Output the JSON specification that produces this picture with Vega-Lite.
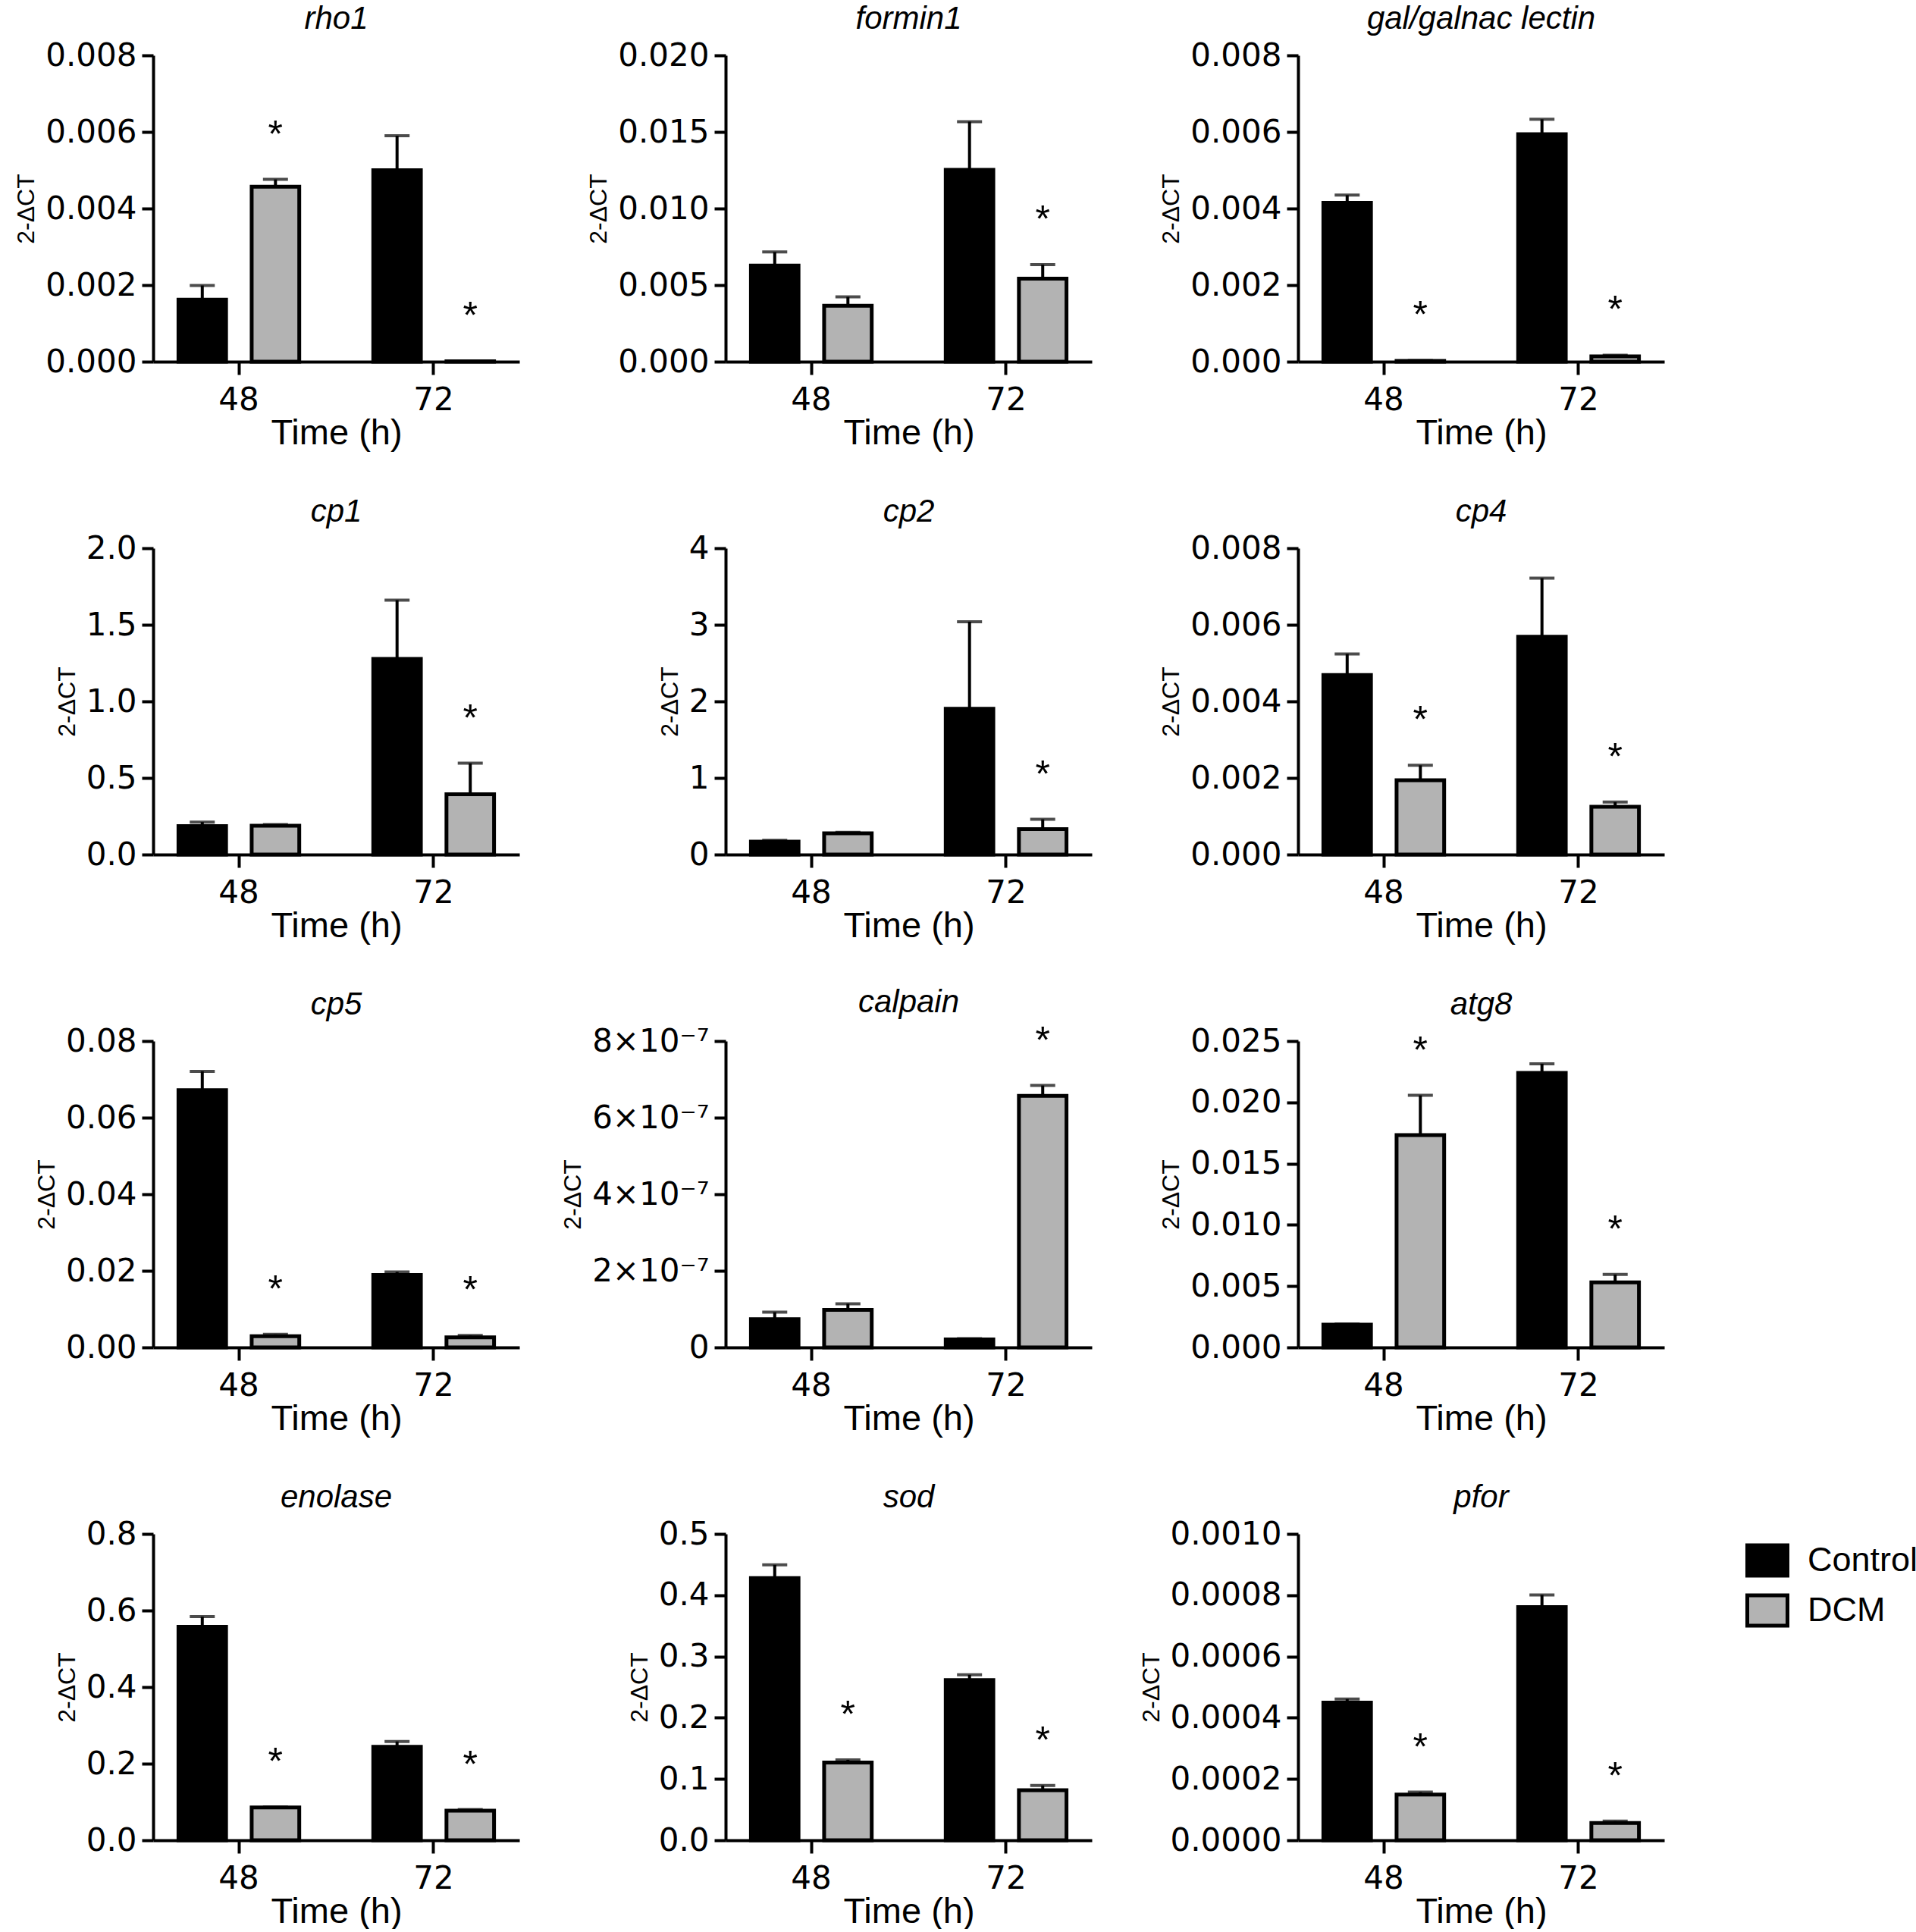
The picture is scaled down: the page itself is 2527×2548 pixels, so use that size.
{
  "$schema": "https://vega.github.io/schema/vega-lite/v6.json",
  "padding": {"left": 18, "top": 4, "right": 0, "bottom": 0},
  "background": "white",
  "columns": 3,
  "spacing": {"row": 246, "column": 272},
  "bounds": "flush",
  "datasets": {
    "d": [
      {"gene": "rho1", "time": "48", "group": "Control", "mean": 0.00162, "upper": 0.00199, "sig": false},
      {"gene": "rho1", "time": "48", "group": "DCM", "mean": 0.00457, "upper": 0.00476, "sig": true},
      {"gene": "rho1", "time": "72", "group": "Control", "mean": 0.005, "upper": 0.0059, "sig": false},
      {"gene": "rho1", "time": "72", "group": "DCM", "mean": 0.00001, "upper": 0.00001, "sig": true},
      {"gene": "formin1", "time": "48", "group": "Control", "mean": 0.00628, "upper": 0.00716, "sig": false},
      {"gene": "formin1", "time": "48", "group": "DCM", "mean": 0.00365, "upper": 0.00423, "sig": false},
      {"gene": "formin1", "time": "72", "group": "Control", "mean": 0.01253, "upper": 0.01567, "sig": false},
      {"gene": "formin1", "time": "72", "group": "DCM", "mean": 0.00542, "upper": 0.00634, "sig": true},
      {"gene": "gal/galnac lectin", "time": "48", "group": "Control", "mean": 0.00415, "upper": 0.00435, "sig": false},
      {"gene": "gal/galnac lectin", "time": "48", "group": "DCM", "mean": 0.00002, "upper": 0.00003, "sig": true},
      {"gene": "gal/galnac lectin", "time": "72", "group": "Control", "mean": 0.00594, "upper": 0.00633, "sig": false},
      {"gene": "gal/galnac lectin", "time": "72", "group": "DCM", "mean": 0.00014, "upper": 0.00017, "sig": true},
      {"gene": "cp1", "time": "48", "group": "Control", "mean": 0.186, "upper": 0.212, "sig": false},
      {"gene": "cp1", "time": "48", "group": "DCM", "mean": 0.188, "upper": 0.196, "sig": false},
      {"gene": "cp1", "time": "72", "group": "Control", "mean": 1.277, "upper": 1.661, "sig": false},
      {"gene": "cp1", "time": "72", "group": "DCM", "mean": 0.394, "upper": 0.596, "sig": true},
      {"gene": "cp2", "time": "48", "group": "Control", "mean": 0.169, "upper": 0.185, "sig": false},
      {"gene": "cp2", "time": "48", "group": "DCM", "mean": 0.278, "upper": 0.29, "sig": false},
      {"gene": "cp2", "time": "72", "group": "Control", "mean": 1.903, "upper": 3.04, "sig": false},
      {"gene": "cp2", "time": "72", "group": "DCM", "mean": 0.331, "upper": 0.46, "sig": true},
      {"gene": "cp4", "time": "48", "group": "Control", "mean": 0.00469, "upper": 0.00524, "sig": false},
      {"gene": "cp4", "time": "48", "group": "DCM", "mean": 0.00194, "upper": 0.00233, "sig": true},
      {"gene": "cp4", "time": "72", "group": "Control", "mean": 0.00569, "upper": 0.00722, "sig": false},
      {"gene": "cp4", "time": "72", "group": "DCM", "mean": 0.00125, "upper": 0.00137, "sig": true},
      {"gene": "cp5", "time": "48", "group": "Control", "mean": 0.0672, "upper": 0.0721, "sig": false},
      {"gene": "cp5", "time": "48", "group": "DCM", "mean": 0.0029, "upper": 0.0034, "sig": true},
      {"gene": "cp5", "time": "72", "group": "Control", "mean": 0.0189, "upper": 0.0197, "sig": false},
      {"gene": "cp5", "time": "72", "group": "DCM", "mean": 0.0026, "upper": 0.0031, "sig": true},
      {"gene": "calpain", "time": "48", "group": "Control", "mean": 7.4e-8, "upper": 9.2e-8, "sig": false},
      {"gene": "calpain", "time": "48", "group": "DCM", "mean": 9.8e-8, "upper": 1.14e-7, "sig": false},
      {"gene": "calpain", "time": "72", "group": "Control", "mean": 2.1e-8, "upper": 2.3e-8, "sig": false},
      {"gene": "calpain", "time": "72", "group": "DCM", "mean": 6.57e-7, "upper": 6.84e-7, "sig": true},
      {"gene": "atg8", "time": "48", "group": "Control", "mean": 0.00185, "upper": 0.0019, "sig": false},
      {"gene": "atg8", "time": "48", "group": "DCM", "mean": 0.01733, "upper": 0.02057, "sig": true},
      {"gene": "atg8", "time": "72", "group": "Control", "mean": 0.0224, "upper": 0.02315, "sig": false},
      {"gene": "atg8", "time": "72", "group": "DCM", "mean": 0.00531, "upper": 0.00595, "sig": true},
      {"gene": "enolase", "time": "48", "group": "Control", "mean": 0.5575, "upper": 0.584, "sig": false},
      {"gene": "enolase", "time": "48", "group": "DCM", "mean": 0.0854, "upper": 0.087, "sig": true},
      {"gene": "enolase", "time": "72", "group": "Control", "mean": 0.244, "upper": 0.258, "sig": false},
      {"gene": "enolase", "time": "72", "group": "DCM", "mean": 0.0773, "upper": 0.08, "sig": true},
      {"gene": "sod", "time": "48", "group": "Control", "mean": 0.4278, "upper": 0.4495, "sig": false},
      {"gene": "sod", "time": "48", "group": "DCM", "mean": 0.1268, "upper": 0.1313, "sig": true},
      {"gene": "sod", "time": "72", "group": "Control", "mean": 0.2616, "upper": 0.27, "sig": false},
      {"gene": "sod", "time": "72", "group": "DCM", "mean": 0.0818, "upper": 0.0894, "sig": true},
      {"gene": "pfor", "time": "48", "group": "Control", "mean": 0.000449, "upper": 0.000461, "sig": false},
      {"gene": "pfor", "time": "48", "group": "DCM", "mean": 0.000149, "upper": 0.000157, "sig": true},
      {"gene": "pfor", "time": "72", "group": "Control", "mean": 0.000761, "upper": 0.000801, "sig": false},
      {"gene": "pfor", "time": "72", "group": "DCM", "mean": 0.0000563, "upper": 0.0000624, "sig": true}
    ]
  },
  "config": {
    "view": {"stroke": null},
    "font": "Liberation Sans",
    "axis": {"domainColor": "black", "domainWidth": 4, "tickColor": "black", "tickWidth": 4, "labelColor": "black", "labelFontSize": 42, "labelFont": "DejaVu Sans", "titleFontSize": 47, "titleFontWeight": "normal", "titleColor": "black", "grid": false, "titleFont": "Liberation Sans"},
    "axisY": {"tickSize": 15, "tickCount": 5, "titleFontSize": 32, "titlePadding": 8, "labelPadding": 7},
    "axisX": {"tickSize": 17, "labelPadding": 13, "titlePadding": 0, "labelAngle": 0},
    "title": {"fontSize": 42, "fontStyle": "italic", "fontWeight": "normal", "font": "Liberation Sans", "offset": 5, "color": "black", "frame": "group", "anchor": "middle"},
    "legend": {"orient": "none", "legendX": 2100, "legendY": 1956, "title": null, "symbolType": "M-1,-0.755H1V0.755H-1Z", "symbolSize": 2809, "symbolStrokeColor": "black", "symbolStrokeWidth": 5, "labelFontSize": 45, "labelFont": "Liberation Sans", "labelColor": "black", "labelOffset": 24, "rowPadding": 4, "labelLimit": 400}
  },
  "concat": [
    {"title": "rho1", "width": 483, "height": 404, "data": {"name": "d"}, "transform": [{"filter": "datum.gene === 'rho1'"}],
     "encoding": {"x": {"field": "time", "type": "nominal", "title": "Time (h)", "scale": {"paddingInner": 0.38, "paddingOuter": 0.13}}, "xOffset": {"field": "group", "type": "nominal", "scale": {"paddingInner": 0.35, "paddingOuter": 0}}},
     "layer": [
       {"mark": {"type": "bar", "stroke": "black", "strokeWidth": 5}, "encoding": {"y": {"field": "mean", "type": "quantitative", "title": "2-ΔCT", "scale": {"domain": [0, 0.008]}}, "fill": {"field": "group", "type": "nominal", "scale": {"domain": ["Control", "DCM"], "range": ["#000000", "#b3b3b3"]}}}},
       {"mark": {"type": "rule", "strokeWidth": 4, "color": "black"}, "encoding": {"y": {"field": "mean", "type": "quantitative", "scale": {"domain": [0, 0.008]}}, "y2": {"field": "upper"}}},
       {"mark": {"type": "tick", "thickness": 4, "size": 33, "color": "black"}, "encoding": {"y": {"field": "upper", "type": "quantitative", "scale": {"domain": [0, 0.008]}}}},
       {"transform": [{"filter": "datum.sig"}], "mark": {"type": "text", "text": "*", "dy": -43, "fontSize": 50, "baseline": "alphabetic", "color": "black"}, "encoding": {"y": {"field": "upper", "type": "quantitative", "scale": {"domain": [0, 0.008]}}}}
     ]},
    {"title": "formin1", "width": 483, "height": 404, "data": {"name": "d"}, "transform": [{"filter": "datum.gene === 'formin1'"}],
     "encoding": {"x": {"field": "time", "type": "nominal", "title": "Time (h)", "scale": {"paddingInner": 0.38, "paddingOuter": 0.13}}, "xOffset": {"field": "group", "type": "nominal", "scale": {"paddingInner": 0.35, "paddingOuter": 0}}},
     "layer": [
       {"mark": {"type": "bar", "stroke": "black", "strokeWidth": 5}, "encoding": {"y": {"field": "mean", "type": "quantitative", "title": "2-ΔCT", "scale": {"domain": [0, 0.02]}}, "fill": {"field": "group", "type": "nominal", "scale": {"domain": ["Control", "DCM"], "range": ["#000000", "#b3b3b3"]}}}},
       {"mark": {"type": "rule", "strokeWidth": 4, "color": "black"}, "encoding": {"y": {"field": "mean", "type": "quantitative", "scale": {"domain": [0, 0.02]}}, "y2": {"field": "upper"}}},
       {"mark": {"type": "tick", "thickness": 4, "size": 33, "color": "black"}, "encoding": {"y": {"field": "upper", "type": "quantitative", "scale": {"domain": [0, 0.02]}}}},
       {"transform": [{"filter": "datum.sig"}], "mark": {"type": "text", "text": "*", "dy": -43, "fontSize": 50, "baseline": "alphabetic", "color": "black"}, "encoding": {"y": {"field": "upper", "type": "quantitative", "scale": {"domain": [0, 0.02]}}}}
     ]},
    {"title": "gal/galnac lectin", "width": 483, "height": 404, "data": {"name": "d"}, "transform": [{"filter": "datum.gene === 'gal/galnac lectin'"}],
     "encoding": {"x": {"field": "time", "type": "nominal", "title": "Time (h)", "scale": {"paddingInner": 0.38, "paddingOuter": 0.13}}, "xOffset": {"field": "group", "type": "nominal", "scale": {"paddingInner": 0.35, "paddingOuter": 0}}},
     "layer": [
       {"mark": {"type": "bar", "stroke": "black", "strokeWidth": 5}, "encoding": {"y": {"field": "mean", "type": "quantitative", "title": "2-ΔCT", "scale": {"domain": [0, 0.008]}}, "fill": {"field": "group", "type": "nominal", "scale": {"domain": ["Control", "DCM"], "range": ["#000000", "#b3b3b3"]}}}},
       {"mark": {"type": "rule", "strokeWidth": 4, "color": "black"}, "encoding": {"y": {"field": "mean", "type": "quantitative", "scale": {"domain": [0, 0.008]}}, "y2": {"field": "upper"}}},
       {"mark": {"type": "tick", "thickness": 4, "size": 33, "color": "black"}, "encoding": {"y": {"field": "upper", "type": "quantitative", "scale": {"domain": [0, 0.008]}}}},
       {"transform": [{"filter": "datum.sig"}], "mark": {"type": "text", "text": "*", "dy": -43, "fontSize": 50, "baseline": "alphabetic", "color": "black"}, "encoding": {"y": {"field": "upper", "type": "quantitative", "scale": {"domain": [0, 0.008]}}}}
     ]},
    {"title": "cp1", "width": 483, "height": 404, "data": {"name": "d"}, "transform": [{"filter": "datum.gene === 'cp1'"}],
     "encoding": {"x": {"field": "time", "type": "nominal", "title": "Time (h)", "scale": {"paddingInner": 0.38, "paddingOuter": 0.13}}, "xOffset": {"field": "group", "type": "nominal", "scale": {"paddingInner": 0.35, "paddingOuter": 0}}},
     "layer": [
       {"mark": {"type": "bar", "stroke": "black", "strokeWidth": 5}, "encoding": {"y": {"field": "mean", "type": "quantitative", "title": "2-ΔCT", "scale": {"domain": [0, 2]}}, "fill": {"field": "group", "type": "nominal", "scale": {"domain": ["Control", "DCM"], "range": ["#000000", "#b3b3b3"]}}}},
       {"mark": {"type": "rule", "strokeWidth": 4, "color": "black"}, "encoding": {"y": {"field": "mean", "type": "quantitative", "scale": {"domain": [0, 2]}}, "y2": {"field": "upper"}}},
       {"mark": {"type": "tick", "thickness": 4, "size": 33, "color": "black"}, "encoding": {"y": {"field": "upper", "type": "quantitative", "scale": {"domain": [0, 2]}}}},
       {"transform": [{"filter": "datum.sig"}], "mark": {"type": "text", "text": "*", "dy": -43, "fontSize": 50, "baseline": "alphabetic", "color": "black"}, "encoding": {"y": {"field": "upper", "type": "quantitative", "scale": {"domain": [0, 2]}}}}
     ]},
    {"title": "cp2", "width": 483, "height": 404, "data": {"name": "d"}, "transform": [{"filter": "datum.gene === 'cp2'"}],
     "encoding": {"x": {"field": "time", "type": "nominal", "title": "Time (h)", "scale": {"paddingInner": 0.38, "paddingOuter": 0.13}}, "xOffset": {"field": "group", "type": "nominal", "scale": {"paddingInner": 0.35, "paddingOuter": 0}}},
     "layer": [
       {"mark": {"type": "bar", "stroke": "black", "strokeWidth": 5}, "encoding": {"y": {"field": "mean", "type": "quantitative", "title": "2-ΔCT", "scale": {"domain": [0, 4]}}, "fill": {"field": "group", "type": "nominal", "scale": {"domain": ["Control", "DCM"], "range": ["#000000", "#b3b3b3"]}}}},
       {"mark": {"type": "rule", "strokeWidth": 4, "color": "black"}, "encoding": {"y": {"field": "mean", "type": "quantitative", "scale": {"domain": [0, 4]}}, "y2": {"field": "upper"}}},
       {"mark": {"type": "tick", "thickness": 4, "size": 33, "color": "black"}, "encoding": {"y": {"field": "upper", "type": "quantitative", "scale": {"domain": [0, 4]}}}},
       {"transform": [{"filter": "datum.sig"}], "mark": {"type": "text", "text": "*", "dy": -43, "fontSize": 50, "baseline": "alphabetic", "color": "black"}, "encoding": {"y": {"field": "upper", "type": "quantitative", "scale": {"domain": [0, 4]}}}}
     ]},
    {"title": "cp4", "width": 483, "height": 404, "data": {"name": "d"}, "transform": [{"filter": "datum.gene === 'cp4'"}],
     "encoding": {"x": {"field": "time", "type": "nominal", "title": "Time (h)", "scale": {"paddingInner": 0.38, "paddingOuter": 0.13}}, "xOffset": {"field": "group", "type": "nominal", "scale": {"paddingInner": 0.35, "paddingOuter": 0}}},
     "layer": [
       {"mark": {"type": "bar", "stroke": "black", "strokeWidth": 5}, "encoding": {"y": {"field": "mean", "type": "quantitative", "title": "2-ΔCT", "scale": {"domain": [0, 0.008]}}, "fill": {"field": "group", "type": "nominal", "scale": {"domain": ["Control", "DCM"], "range": ["#000000", "#b3b3b3"]}}}},
       {"mark": {"type": "rule", "strokeWidth": 4, "color": "black"}, "encoding": {"y": {"field": "mean", "type": "quantitative", "scale": {"domain": [0, 0.008]}}, "y2": {"field": "upper"}}},
       {"mark": {"type": "tick", "thickness": 4, "size": 33, "color": "black"}, "encoding": {"y": {"field": "upper", "type": "quantitative", "scale": {"domain": [0, 0.008]}}}},
       {"transform": [{"filter": "datum.sig"}], "mark": {"type": "text", "text": "*", "dy": -43, "fontSize": 50, "baseline": "alphabetic", "color": "black"}, "encoding": {"y": {"field": "upper", "type": "quantitative", "scale": {"domain": [0, 0.008]}}}}
     ]},
    {"title": "cp5", "width": 483, "height": 404, "data": {"name": "d"}, "transform": [{"filter": "datum.gene === 'cp5'"}],
     "encoding": {"x": {"field": "time", "type": "nominal", "title": "Time (h)", "scale": {"paddingInner": 0.38, "paddingOuter": 0.13}}, "xOffset": {"field": "group", "type": "nominal", "scale": {"paddingInner": 0.35, "paddingOuter": 0}}},
     "layer": [
       {"mark": {"type": "bar", "stroke": "black", "strokeWidth": 5}, "encoding": {"y": {"field": "mean", "type": "quantitative", "title": "2-ΔCT", "scale": {"domain": [0, 0.08]}}, "fill": {"field": "group", "type": "nominal", "scale": {"domain": ["Control", "DCM"], "range": ["#000000", "#b3b3b3"]}}}},
       {"mark": {"type": "rule", "strokeWidth": 4, "color": "black"}, "encoding": {"y": {"field": "mean", "type": "quantitative", "scale": {"domain": [0, 0.08]}}, "y2": {"field": "upper"}}},
       {"mark": {"type": "tick", "thickness": 4, "size": 33, "color": "black"}, "encoding": {"y": {"field": "upper", "type": "quantitative", "scale": {"domain": [0, 0.08]}}}},
       {"transform": [{"filter": "datum.sig"}], "mark": {"type": "text", "text": "*", "dy": -43, "fontSize": 50, "baseline": "alphabetic", "color": "black"}, "encoding": {"y": {"field": "upper", "type": "quantitative", "scale": {"domain": [0, 0.08]}}}}
     ]},
    {"title": "calpain", "width": 483, "height": 404, "data": {"name": "d"}, "transform": [{"filter": "datum.gene === 'calpain'"}],
     "encoding": {"x": {"field": "time", "type": "nominal", "title": "Time (h)", "scale": {"paddingInner": 0.38, "paddingOuter": 0.13}}, "xOffset": {"field": "group", "type": "nominal", "scale": {"paddingInner": 0.35, "paddingOuter": 0}}},
     "layer": [
       {"mark": {"type": "bar", "stroke": "black", "strokeWidth": 5}, "encoding": {"y": {"field": "mean", "type": "quantitative", "title": "2-ΔCT", "scale": {"domain": [0, 8e-7]}, "axis": {"labelExpr": "datum.value === 0 ? '0' : format(datum.value * 1e7, '.0f') + '×10⁻⁷'"}}, "fill": {"field": "group", "type": "nominal", "scale": {"domain": ["Control", "DCM"], "range": ["#000000", "#b3b3b3"]}}}},
       {"mark": {"type": "rule", "strokeWidth": 4, "color": "black"}, "encoding": {"y": {"field": "mean", "type": "quantitative", "scale": {"domain": [0, 8e-7]}}, "y2": {"field": "upper"}}},
       {"mark": {"type": "tick", "thickness": 4, "size": 33, "color": "black"}, "encoding": {"y": {"field": "upper", "type": "quantitative", "scale": {"domain": [0, 8e-7]}}}},
       {"transform": [{"filter": "datum.sig"}], "mark": {"type": "text", "text": "*", "dy": -43, "fontSize": 50, "baseline": "alphabetic", "color": "black"}, "encoding": {"y": {"field": "upper", "type": "quantitative", "scale": {"domain": [0, 8e-7]}}}}
     ]},
    {"title": "atg8", "width": 483, "height": 404, "data": {"name": "d"}, "transform": [{"filter": "datum.gene === 'atg8'"}],
     "encoding": {"x": {"field": "time", "type": "nominal", "title": "Time (h)", "scale": {"paddingInner": 0.38, "paddingOuter": 0.13}}, "xOffset": {"field": "group", "type": "nominal", "scale": {"paddingInner": 0.35, "paddingOuter": 0}}},
     "layer": [
       {"mark": {"type": "bar", "stroke": "black", "strokeWidth": 5}, "encoding": {"y": {"field": "mean", "type": "quantitative", "title": "2-ΔCT", "scale": {"domain": [0, 0.025]}}, "fill": {"field": "group", "type": "nominal", "scale": {"domain": ["Control", "DCM"], "range": ["#000000", "#b3b3b3"]}}}},
       {"mark": {"type": "rule", "strokeWidth": 4, "color": "black"}, "encoding": {"y": {"field": "mean", "type": "quantitative", "scale": {"domain": [0, 0.025]}}, "y2": {"field": "upper"}}},
       {"mark": {"type": "tick", "thickness": 4, "size": 33, "color": "black"}, "encoding": {"y": {"field": "upper", "type": "quantitative", "scale": {"domain": [0, 0.025]}}}},
       {"transform": [{"filter": "datum.sig"}], "mark": {"type": "text", "text": "*", "dy": -43, "fontSize": 50, "baseline": "alphabetic", "color": "black"}, "encoding": {"y": {"field": "upper", "type": "quantitative", "scale": {"domain": [0, 0.025]}}}}
     ]},
    {"title": "enolase", "width": 483, "height": 404, "data": {"name": "d"}, "transform": [{"filter": "datum.gene === 'enolase'"}],
     "encoding": {"x": {"field": "time", "type": "nominal", "title": "Time (h)", "scale": {"paddingInner": 0.38, "paddingOuter": 0.13}}, "xOffset": {"field": "group", "type": "nominal", "scale": {"paddingInner": 0.35, "paddingOuter": 0}}},
     "layer": [
       {"mark": {"type": "bar", "stroke": "black", "strokeWidth": 5}, "encoding": {"y": {"field": "mean", "type": "quantitative", "title": "2-ΔCT", "scale": {"domain": [0, 0.8]}}, "fill": {"field": "group", "type": "nominal", "scale": {"domain": ["Control", "DCM"], "range": ["#000000", "#b3b3b3"]}}}},
       {"mark": {"type": "rule", "strokeWidth": 4, "color": "black"}, "encoding": {"y": {"field": "mean", "type": "quantitative", "scale": {"domain": [0, 0.8]}}, "y2": {"field": "upper"}}},
       {"mark": {"type": "tick", "thickness": 4, "size": 33, "color": "black"}, "encoding": {"y": {"field": "upper", "type": "quantitative", "scale": {"domain": [0, 0.8]}}}},
       {"transform": [{"filter": "datum.sig"}], "mark": {"type": "text", "text": "*", "dy": -43, "fontSize": 50, "baseline": "alphabetic", "color": "black"}, "encoding": {"y": {"field": "upper", "type": "quantitative", "scale": {"domain": [0, 0.8]}}}}
     ]},
    {"title": "sod", "width": 483, "height": 404, "data": {"name": "d"}, "transform": [{"filter": "datum.gene === 'sod'"}],
     "encoding": {"x": {"field": "time", "type": "nominal", "title": "Time (h)", "scale": {"paddingInner": 0.38, "paddingOuter": 0.13}}, "xOffset": {"field": "group", "type": "nominal", "scale": {"paddingInner": 0.35, "paddingOuter": 0}}},
     "layer": [
       {"mark": {"type": "bar", "stroke": "black", "strokeWidth": 5}, "encoding": {"y": {"field": "mean", "type": "quantitative", "title": "2-ΔCT", "scale": {"domain": [0, 0.5]}}, "fill": {"field": "group", "type": "nominal", "scale": {"domain": ["Control", "DCM"], "range": ["#000000", "#b3b3b3"]}}}},
       {"mark": {"type": "rule", "strokeWidth": 4, "color": "black"}, "encoding": {"y": {"field": "mean", "type": "quantitative", "scale": {"domain": [0, 0.5]}}, "y2": {"field": "upper"}}},
       {"mark": {"type": "tick", "thickness": 4, "size": 33, "color": "black"}, "encoding": {"y": {"field": "upper", "type": "quantitative", "scale": {"domain": [0, 0.5]}}}},
       {"transform": [{"filter": "datum.sig"}], "mark": {"type": "text", "text": "*", "dy": -43, "fontSize": 50, "baseline": "alphabetic", "color": "black"}, "encoding": {"y": {"field": "upper", "type": "quantitative", "scale": {"domain": [0, 0.5]}}}}
     ]},
    {"title": "pfor", "width": 483, "height": 404, "data": {"name": "d"}, "transform": [{"filter": "datum.gene === 'pfor'"}],
     "encoding": {"x": {"field": "time", "type": "nominal", "title": "Time (h)", "scale": {"paddingInner": 0.38, "paddingOuter": 0.13}}, "xOffset": {"field": "group", "type": "nominal", "scale": {"paddingInner": 0.35, "paddingOuter": 0}}},
     "layer": [
       {"mark": {"type": "bar", "stroke": "black", "strokeWidth": 5}, "encoding": {"y": {"field": "mean", "type": "quantitative", "title": "2-ΔCT", "scale": {"domain": [0, 0.001]}}, "fill": {"field": "group", "type": "nominal", "scale": {"domain": ["Control", "DCM"], "range": ["#000000", "#b3b3b3"]}}}},
       {"mark": {"type": "rule", "strokeWidth": 4, "color": "black"}, "encoding": {"y": {"field": "mean", "type": "quantitative", "scale": {"domain": [0, 0.001]}}, "y2": {"field": "upper"}}},
       {"mark": {"type": "tick", "thickness": 4, "size": 33, "color": "black"}, "encoding": {"y": {"field": "upper", "type": "quantitative", "scale": {"domain": [0, 0.001]}}}},
       {"transform": [{"filter": "datum.sig"}], "mark": {"type": "text", "text": "*", "dy": -43, "fontSize": 50, "baseline": "alphabetic", "color": "black"}, "encoding": {"y": {"field": "upper", "type": "quantitative", "scale": {"domain": [0, 0.001]}}}}
     ]}
  ]
}
